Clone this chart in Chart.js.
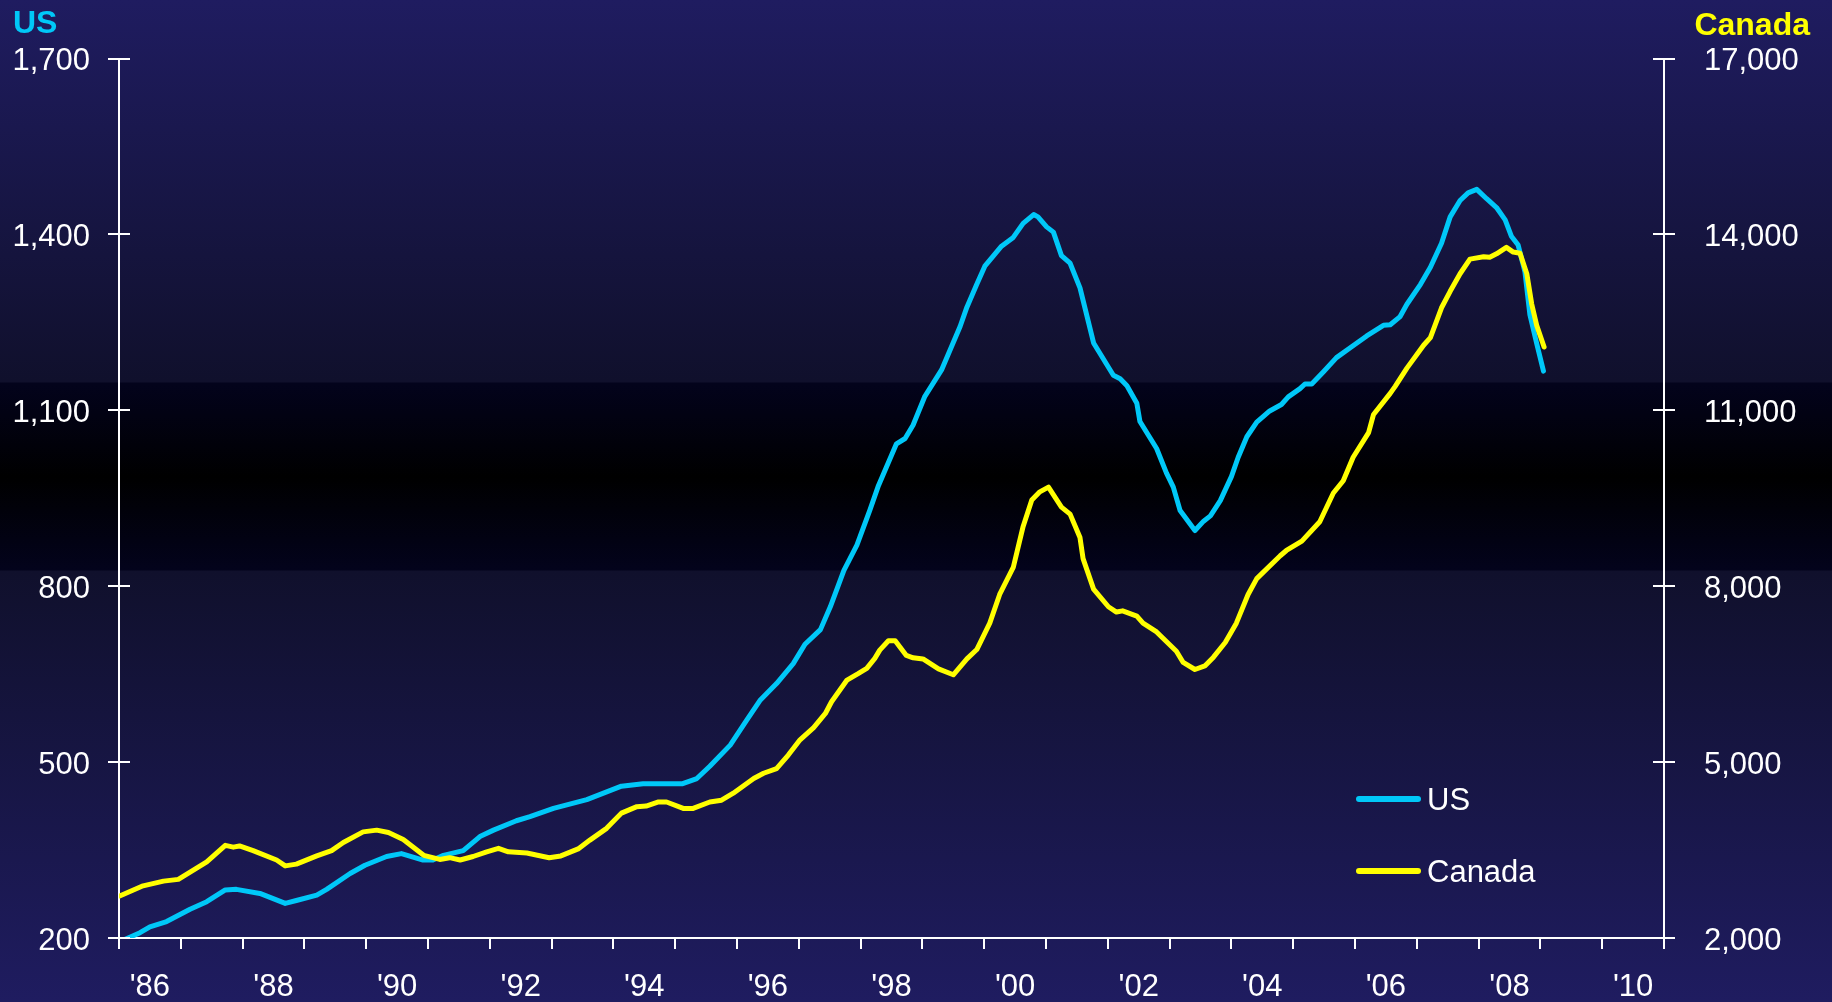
<!DOCTYPE html>
<html>
<head>
<meta charset="utf-8">
<script src="https://cdn.jsdelivr.net/npm/chart.js@4.4.0/dist/chart.umd.min.js"></script>
<style>
html,body{margin:0;padding:0;}
body{width:1832px;height:1002px;overflow:hidden;
background:linear-gradient(to bottom,#1f1c60 0px,#10102c 382px,#03031c 383px,#000000 477px,#03031c 570px,#10102c 571px,#1f1c60 1002px);}
canvas{display:block;}
</style>
</head>
<body>
<canvas id="c" width="1832" height="1002"></canvas>
<script>
// ---- data ----
const usLabel = 'US';
const caLabel = 'Canada';
const usYears = [1986.02,1986.34,1986.50,1986.77,1987.15,1987.42,1987.72,1987.90,1988.28,1988.69,1988.87,1989.20,1989.36,1989.74,1989.98,1990.33,1990.57,1990.92,1991.08,1991.25,1991.57,1991.84,1992.06,1992.43,1992.65,1993.03,1993.57,1994.13,1994.48,1995.11,1995.35,1995.56,1995.89,1996.16,1996.37,1996.64,1996.91,1997.10,1997.35,1997.51,1997.73,1997.94,1998.15,1998.29,1998.58,1998.72,1998.85,1999.04,1999.31,1999.61,1999.72,1999.88,2000.01,2000.28,2000.47,2000.63,2000.80,2000.87,2001.01,2001.12,2001.25,2001.39,2001.55,2001.77,2002.09,2002.20,2002.31,2002.47,2002.52,2002.79,2002.95,2003.06,2003.17,2003.41,2003.55,2003.66,2003.82,2004.00,2004.11,2004.25,2004.41,2004.62,2004.81,2004.92,2005.11,2005.19,2005.30,2005.49,2005.70,2005.94,2006.19,2006.46,2006.57,2006.73,2006.84,2007.06,2007.22,2007.40,2007.54,2007.70,2007.83,2007.97,2008.13,2008.29,2008.43,2008.53,2008.64,2008.75,2008.83,2008.94,2009.05];
const usValues = [194,209,219,228,249,262,282,283,276,259,264,273,283,310,324,339,344,333,333,341,349,373,384,400,407,421,436,459,463,463,472,493,529,572,605,634,668,701,726,765,827,870,930,972,1043,1052,1075,1124,1169,1243,1276,1315,1346,1380,1395,1419,1434,1430,1413,1404,1364,1351,1309,1215,1160,1154,1142,1112,1081,1035,993,969,929,895,911,920,946,987,1020,1055,1080,1099,1110,1123,1137,1145,1145,1166,1190,1208,1227,1245,1246,1260,1281,1315,1344,1385,1430,1458,1471,1477,1461,1446,1425,1397,1382,1336,1263,1214,1167];
const caYears = [1986.02,1986.39,1986.72,1986.96,1987.42,1987.72,1987.85,1987.95,1988.17,1988.55,1988.69,1988.87,1989.20,1989.44,1989.63,1989.95,1990.17,1990.36,1990.60,1990.93,1991.19,1991.35,1991.52,1991.73,1991.95,1992.14,1992.30,1992.60,1992.96,1993.15,1993.43,1993.62,1993.89,1994.13,1994.38,1994.53,1994.73,1994.86,1995.13,1995.29,1995.56,1995.75,1995.94,1996.27,1996.43,1996.64,1996.83,1997.02,1997.24,1997.43,1997.53,1997.78,1997.96,1998.10,1998.23,1998.31,1998.45,1998.56,1998.74,1998.85,1999.01,1999.26,1999.50,1999.72,1999.88,2000.09,2000.25,2000.47,2000.63,2000.77,2000.90,2001.04,2001.25,2001.39,2001.55,2001.60,2001.77,2002.01,2002.14,2002.24,2002.47,2002.57,2002.79,2003.11,2003.22,2003.41,2003.57,2003.71,2003.90,2004.08,2004.27,2004.41,2004.79,2004.89,2005.14,2005.43,2005.65,2005.81,2005.97,2006.22,2006.30,2006.57,2006.65,2006.84,2007.11,2007.22,2007.40,2007.54,2007.70,2007.86,2008.08,2008.18,2008.29,2008.45,2008.56,2008.67,2008.78,2008.86,2008.94,2009.06];
const caValues = [2720,2890,2970,3000,3300,3580,3550,3570,3490,3330,3230,3260,3400,3490,3630,3810,3840,3800,3680,3410,3340,3370,3330,3390,3470,3530,3470,3450,3370,3400,3520,3670,3870,4130,4240,4250,4320,4320,4210,4210,4320,4350,4470,4720,4810,4890,5120,5380,5590,5830,6030,6400,6510,6600,6770,6910,7070,7070,6820,6780,6760,6590,6490,6760,6920,7370,7860,8320,9020,9470,9610,9690,9350,9230,8830,8470,7950,7650,7560,7580,7490,7370,7220,6890,6700,6580,6640,6790,7040,7370,7860,8130,8520,8610,8770,9100,9590,9800,10200,10620,10930,11290,11410,11720,12110,12240,12750,13030,13330,13580,13620,13610,13670,13780,13700,13680,13330,12810,12450,12080];
const xTickLabels = ["'86","'88","'90","'92","'94","'96","'98","'00","'02","'04","'06","'08","'10"];
const xFirstYear = 1986, xLastYear = 2011;
const usAxis = {min: 200, max: 1700, step: 300};
const caAxis = {min: 2000, max: 17000, step: 3000};

// ---- styles ----
const US_COLOR = '#00c8f8';
const CA_COLOR = '#ffff00';
const FONT = '"Liberation Sans", Arial, Helvetica, sans-serif';

const labelByYear = {};
xTickLabels.forEach((l, i) => { labelByYear[xFirstYear + i * 2] = l; });

const overlay = {
  id: 'overlay',
  afterDraw(chart) {
    const ctx = chart.ctx;
    ctx.save();
    // crossing tick marks on both value axes
    ctx.strokeStyle = '#ffffff';
    ctx.lineWidth = 2;
    [['y', 'right'], ['y1', 'left']].forEach(([id, side]) => {
      const s = chart.scales[id];
      const ax = side === 'right' ? s.right : s.left;
      s.ticks.forEach(t => {
        const py = Math.round(s.getPixelForValue(t.value));
        ctx.beginPath();
        ctx.moveTo(ax - 11, py);
        ctx.lineTo(ax + 11, py);
        ctx.stroke();
      });
    });
    // axis titles
    ctx.font = 'bold 32px ' + FONT;
    ctx.textBaseline = 'alphabetic';
    ctx.textAlign = 'left';
    ctx.fillStyle = US_COLOR;
    ctx.fillText(chart.data.datasets[0].label, 13, 33);
    ctx.textAlign = 'right';
    ctx.fillStyle = CA_COLOR;
    ctx.fillText(chart.data.datasets[1].label, 1810, 35);
    // legend
    ctx.lineCap = 'round';
    ctx.lineWidth = 6;
    ctx.font = '31px ' + FONT;
    ctx.textAlign = 'left';
    ctx.textBaseline = 'middle';
    const rows = [799, 871];
    chart.data.datasets.forEach((ds, i) => {
      ctx.strokeStyle = ds.borderColor;
      ctx.beginPath();
      ctx.moveTo(1359, rows[i]);
      ctx.lineTo(1418, rows[i]);
      ctx.stroke();
      ctx.fillStyle = '#ffffff';
      ctx.fillText(ds.label, 1427, rows[i] + 2);
    });
    ctx.restore();
  }
};

new Chart(document.getElementById('c'), {
  type: 'line',
  data: {
    datasets: [
      {
        label: usLabel,
        data: usYears.map((x, i) => ({x, y: usValues[i]})),
        borderColor: US_COLOR,
        borderWidth: 5,
        pointRadius: 0,
        tension: 0,
        borderJoinStyle: 'round',
        borderCapStyle: 'round',
        yAxisID: 'y',
        order: 2
      },
      {
        label: caLabel,
        data: caYears.map((x, i) => ({x, y: caValues[i]})),
        borderColor: CA_COLOR,
        borderWidth: 5,
        pointRadius: 0,
        tension: 0,
        borderJoinStyle: 'round',
        borderCapStyle: 'round',
        yAxisID: 'y1',
        order: 1
      }
    ]
  },
  options: {
    responsive: false,
    animation: false,
    devicePixelRatio: 1,
    layout: {padding: {top: 58, left: 0, right: 0, bottom: 0}},
    plugins: {legend: {display: false}, tooltip: {enabled: false}},
    font: {family: FONT},
    scales: {
      x: {
        type: 'linear',
        position: 'bottom',
        min: xFirstYear,
        max: xLastYear,
        afterBuildTicks: axis => {
          const t = [];
          for (let v = xFirstYear; v <= xLastYear + 1e-9; v += 0.5) t.push({value: v});
          axis.ticks = t;
        },
        afterFit: s => { s.height = 64; },
        ticks: {
          autoSkip: false,
          maxRotation: 0,
          minRotation: 0,
          padding: 20,
          color: '#ffffff',
          font: {family: FONT, size: 31},
          callback: v => {
            if (Math.abs(v - Math.floor(v) - 0.5) < 1e-6) {
              return labelByYear[Math.floor(v)] || '';
            }
            return '';
          }
        },
        grid: {
          display: true,
          drawOnChartArea: false,
          drawTicks: true,
          tickLength: 11,
          lineWidth: 2,
          color: c => (c.tick && Math.abs(c.tick.value - Math.round(c.tick.value)) < 1e-6) ? '#ffffff' : 'rgba(0,0,0,0)'
        },
        border: {display: true, color: '#ffffff', width: 2}
      },
      y: {
        type: 'linear',
        position: 'left',
        min: usAxis.min,
        max: usAxis.max,
        afterBuildTicks: axis => {
          const t = [];
          for (let v = usAxis.min; v <= usAxis.max; v += usAxis.step) t.push({value: v});
          axis.ticks = t;
        },
        afterFit: s => { s.width = 119; },
        ticks: {
          padding: 29,
          labelOffset: 3,
          color: '#ffffff',
          font: {family: FONT, size: 31},
          callback: v => v.toLocaleString('en-US')
        },
        grid: {display: false, drawTicks: false},
        border: {display: true, color: '#ffffff', width: 2}
      },
      y1: {
        type: 'linear',
        position: 'right',
        min: caAxis.min,
        max: caAxis.max,
        afterBuildTicks: axis => {
          const t = [];
          for (let v = caAxis.min; v <= caAxis.max; v += caAxis.step) t.push({value: v});
          axis.ticks = t;
        },
        afterFit: s => { s.width = 168; },
        ticks: {
          padding: 40,
          labelOffset: 3,
          color: '#ffffff',
          font: {family: FONT, size: 31},
          callback: v => v.toLocaleString('en-US')
        },
        grid: {display: false, drawTicks: false},
        border: {display: true, color: '#ffffff', width: 2}
      }
    }
  },
  plugins: [overlay]
});
</script>
</body>
</html>
